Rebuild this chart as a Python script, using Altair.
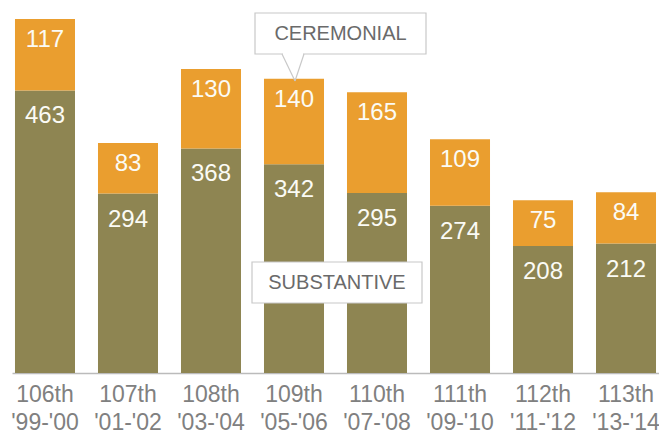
import altair as alt
import pandas as pd

congress = ["106th", "107th", "108th", "109th", "110th", "111th", "112th", "113th"]
years = ["'99-'00", "'01-'02", "'03-'04", "'05-'06", "'07-'08", "'09-'10", "'11-'12", "'13-'14"]
substantive = [463, 294, 368, 342, 295, 274, 208, 212]
ceremonial = [117, 83, 130, 140, 165, 109, 75, 84]

SUB_COLOR = "#8E8552"
CER_COLOR = "#EA9E2F"
FONT = "Liberation Sans"
GRAY_TEXT = "#808080"
BOX_STROKE = "#c8c8c8"

keys = [f"{c}|{y}" for c, y in zip(congress, years)]
rows = []
for k, s, c in zip(keys, substantive, ceremonial):
    rows.append(dict(key=k, type="Substantive", start=0, end=s, value=s))
    rows.append(dict(key=k, type="Ceremonial", start=s, end=s + c, value=c))
df = pd.DataFrame(rows)

xscale = alt.Scale(paddingInner=0.277, paddingOuter=0.036)
yscale = alt.Scale(domain=[0, 580], nice=False, zero=True)

xenc = alt.X(
    "key:N", sort=keys, scale=xscale,
    axis=alt.Axis(title=None, labelExpr="split(datum.value, '|')", ticks=False, tickSize=0,
                  labelPadding=10, labelFontSize=23, labelColor=GRAY_TEXT, labelFont=FONT,
                  labelLineHeight=28, labelAngle=0, domainColor="#bbbbbb", domainWidth=1.5,
                  grid=False, labelBaseline="top"),
)

bars = alt.Chart(df).mark_bar(strokeWidth=0).encode(
    x=xenc,
    y=alt.Y("start:Q", scale=yscale, axis=None),
    y2="end:Q",
    color=alt.Color("type:N", scale=alt.Scale(domain=["Substantive", "Ceremonial"],
                                              range=[SUB_COLOR, CER_COLOR]), legend=None),
)

cer_text = alt.Chart(df[df.type == "Ceremonial"]).mark_text(
    baseline="middle", dy=21, fontSize=24, color="#fbfbf5", font=FONT
).encode(x=alt.X("key:N", sort=keys), y=alt.Y("end:Q", scale=yscale), text="value:Q")

sub_text = alt.Chart(df[df.type == "Substantive"]).mark_text(
    baseline="middle", dy=26, fontSize=24, color="#fbfbf5", font=FONT
).encode(x=alt.X("key:N", sort=keys), y=alt.Y("end:Q", scale=yscale), text="value:Q")

one = pd.DataFrame({"a": [0]})


def box(x1, x2, y1, y2):
    return alt.Chart(one).mark_rect(fill="white", stroke=BOX_STROKE, strokeWidth=1.2).encode(
        x=alt.value(x1), x2=alt.value(x2), y=alt.value(y1), y2=alt.value(y2))


def seg(x1, y1, x2, y2, color=BOX_STROKE, w=1.2):
    return alt.Chart(one).mark_rule(color=color, strokeWidth=w).encode(
        x=alt.value(x1), x2=alt.value(x2), y=alt.value(y1), y2=alt.value(y2))


def label(txt, x, y):
    return alt.Chart(one).mark_text(fontSize=20, color="#6a6a6a", font=FONT,
                                    baseline="middle", align="center").encode(
        x=alt.value(x), y=alt.value(y), text=alt.value(txt))


cer_box = box(243, 414, -6, 35)
cer_mask = seg(271, 35, 291, 35, color="white", w=2.5)
cer_p1 = seg(270, 35, 283, 62)
cer_p2 = seg(292, 35, 283, 62)
cer_lab = label("CEREMONIAL", 328.5, 15)

sub_box = box(240, 410, 243, 284)
sub_lab = label("SUBSTANTIVE", 325, 264)

chart = alt.layer(
    bars, cer_text, sub_text, cer_box, cer_mask, cer_p1, cer_p2, cer_lab, sub_box, sub_lab
).properties(
    width=647, height=354,
    autosize=alt.AutoSizeParams(type="none"),
    padding={"left": 12, "right": 0, "top": 19, "bottom": 61},
).configure_view(stroke=None)

chart.save("out.html", embed_options={"renderer": "svg", "actions": False})
